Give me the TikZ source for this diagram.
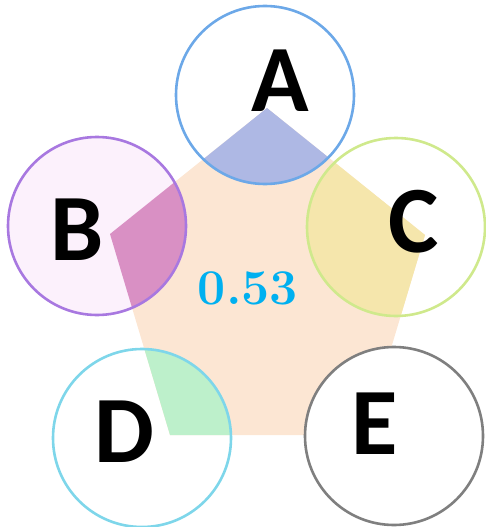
\documentclass[tikz,border=0pt]{standalone}
\usepackage{fontspec}
\newfontfamily\letterfont{Carlito}

\definecolor{pentcol}{HTML}{FCE6D3}
\definecolor{ringa}{HTML}{6CA8E8}
\definecolor{ringb}{HTML}{A878E0}
\definecolor{ringc}{HTML}{CFE98C}
\definecolor{ringd}{HTML}{7ED6EA}
\definecolor{ringe}{HTML}{7F7F7F}
\definecolor{wedgea}{HTML}{AEB8E4}
\definecolor{wedgeb}{HTML}{D990C4}
\definecolor{wedgec}{HTML}{F5E6AC}
\definecolor{wedged}{HTML}{BDF0CB}
\definecolor{fillb}{HTML}{FCF1FC}
\definecolor{valcol}{HTML}{00B0F0}

\newcommand*{\ringr}{89}

\begin{document}
\begin{tikzpicture}
[
	x=1pt, y=-1pt,
	ring/.style={line width=2.6pt},
	letter/.style={font=\letterfont\bfseries\fontsize{95}{95}\selectfont,inner sep=0pt},
	value/.style={font=\bfseries\fontsize{50}{50}\selectfont,text=valcol,inner sep=0pt}
]
	\useasboundingbox (0,0) rectangle (486,527);

	% corners and ring centres
	\coordinate (pa) at (267,108);
	\coordinate (pb) at (110,234);
	\coordinate (pc) at (425,235);
	\coordinate (pd) at (170,435);
	\coordinate (pe) at (365,435);
	\coordinate (ca) at (265,95);
	\coordinate (cb) at (97,226);
	\coordinate (cc) at (396,227);
	\coordinate (cd) at (142,438);
	\coordinate (ce) at (394,436);

	% pentagon
	\fill[pentcol] (pa) -- (pc) -- (pe) -- (pd) -- (pb) -- cycle;

	% ring fills
	\fill[fillb] (cb) circle (\ringr);
	\fill[white] (ce) circle (\ringr);

	% wedges
	\begin{scope}
		\clip (pa) -- (pc) -- (pe) -- (pd) -- (pb) -- cycle;
		\fill[wedgea] (ca) circle (\ringr);
		\fill[wedgeb] (cb) circle (\ringr);
		\fill[wedgec] (cc) circle (\ringr);
		\fill[wedged] (cd) circle (\ringr);
		\fill[white] (ce) circle (\ringr);
	\end{scope}

	% rings
	\draw[ring,ringa] (ca) circle (\ringr);
	\draw[ring,ringb] (cb) circle (\ringr);
	\draw[ring,ringc] (cc) circle (\ringr);
	\draw[ring,ringd] (cd) circle (\ringr);
	\draw[ring,ringe] (ce) circle (\ringr);

	% labels
	\node[letter] (la) at (280,81) {A};
	\node[letter] (lb) at (77,230) {B};
	\node[letter] (lc) at (414,222) {C};
	\node[letter] (ld) at (124,432) {D};
	\node[letter] (le) at (375,424) {E};
	\node[value] (val) at (248,288) {0.53};

\end{tikzpicture}
\end{document}
